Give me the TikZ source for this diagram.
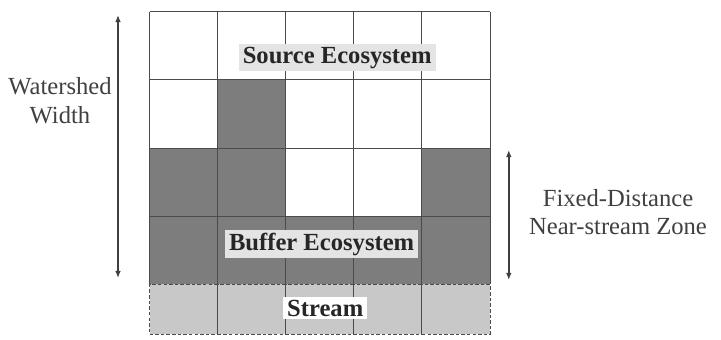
\documentclass[tikz,border=0pt]{standalone}
\usepackage{fontspec}
\setmainfont{Liberation Serif}
\usetikzlibrary{positioning, arrows.meta}

\definecolor{gridline}{RGB}{75,75,75}
\definecolor{buffergray}{RGB}{125,125,125}
\definecolor{streamgray}{RGB}{200,200,200}
\definecolor{labelgray}{RGB}{228,228,228}

\begin{document}
\begin{tikzpicture}[
    cell/.style={fill=white, minimum width=1.702cm, minimum height=1.705cm, inner sep=0pt, outer sep=0pt},
    dark/.style={cell, fill=buffergray},
    streamcell/.style={draw=gridline, dashed, dash pattern=on 2.5pt off 1.5pt, line width=0.7pt, fill=streamgray,
        minimum width=1.702cm, minimum height=1.25cm, inner sep=0pt, outer sep=0pt},
    gridrule/.style={draw=gridline, line width=0.7pt},
    zonelabel/.style={fill=labelgray, font=\fontsize{17.5pt}{21pt}\selectfont\bfseries, inner xsep=3pt, inner ysep=2pt, text=black!85},
    sidelabel/.style={align=center, font=\fontsize{17.5pt}{20.5pt}\selectfont, text=black!75},
    span/.style={draw=black!75, line width=1.4pt, {Latex[length=5pt,width=4pt]}-{Latex[length=5pt,width=4pt]}}
]
\useasboundingbox (0,0) rectangle (18.025,-8.5);

% grid cells
\foreach \c in {1,...,5} {
    \foreach \r in {1,...,4}
        \node[cell] (cell-\r-\c) at ({3.74+(\c-0.5)*1.702}, {-0.29-(\r-0.5)*1.705}) {};
}
\foreach \r/\c in {2/2, 3/1, 3/2, 3/5, 4/1, 4/2, 4/3, 4/4, 4/5}
    \node[dark] at (cell-\r-\c) {};

% grid lines
\foreach \c in {1,...,5}
    \draw[gridrule] (cell-1-\c.north west) -- (cell-4-\c.south west);
\draw[gridrule] (cell-1-5.north east) -- (cell-4-5.south east);
\foreach \r in {1,...,4}
    \draw[gridrule] (cell-\r-1.north west) -- (cell-\r-5.north east);

% stream row
\foreach \c in {1,...,5}
    \node[streamcell, below=0pt of cell-4-\c] (stream-\c) {};

% labels
\node[zonelabel] (source) at (8.43,-1.44) {Source Ecosystem};
\node[zonelabel] (buffer) at (8.04,-6.1) {Buffer Ecosystem};
\node[zonelabel, fill=white] (stream) at (8.13,-7.71) {Stream};

% watershed width
\coordinate (ws-top) at (2.95,-0.375);
\coordinate (ws-bot) at (2.95,-6.95);
\draw[span] (ws-top) -- (ws-bot);
\node[sidelabel] (watershed) at (1.5,-2.52) {Watershed\\Width};

% near-stream zone
\coordinate (nz-top) at (12.72,-3.75);
\coordinate (nz-bot) at (12.72,-7.0);
\draw[span] (nz-top) -- (nz-bot);
\node[sidelabel] (nearzone) at (15.45,-5.3) {Fixed-Distance\\Near-stream Zone};
\end{tikzpicture}
\end{document}
